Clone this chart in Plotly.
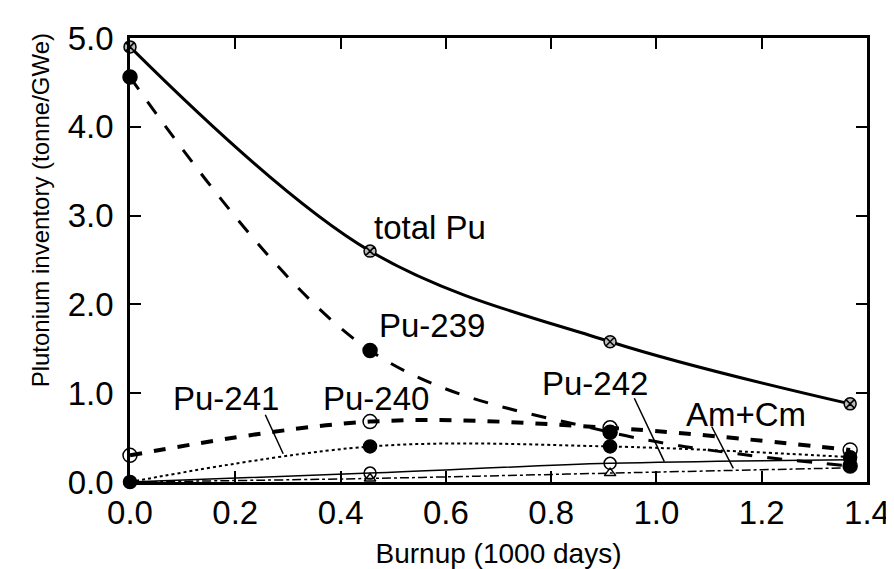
import plotly.graph_objects as go

# Data (burnup in 1000 days, inventory in tonne/GWe)
burnup = [0.0, 0.456, 0.912, 1.368]
total_pu = [4.90, 2.60, 1.58, 0.88]
pu239 = [4.56, 1.48, 0.56, 0.18]
pu240 = [0.30, 0.68, 0.61, 0.36]
pu241 = [0.00, 0.40, 0.40, 0.28]
pu242 = [0.00, 0.10, 0.21, 0.25]
amcm = [0.00, 0.04, 0.10, 0.16]

x_ticks = [0.0, 0.2, 0.4, 0.6, 0.8, 1.0, 1.2, 1.4]
y_ticks = [0.0, 1.0, 2.0, 3.0, 4.0, 5.0]

FONT = "Liberation Sans, Arial, Helvetica, sans-serif"

fig = go.Figure()

def add(y, dash, width, symbol, size, fill, name):
    fig.add_trace(go.Scatter(
        x=burnup, y=y, mode="lines+markers", name=name,
        line=dict(color="black", width=width, dash=dash, shape="spline", smoothing=1),
        marker=dict(symbol=symbol, size=size, color=fill,
                    line=dict(color="black", width=1.5)),
        cliponaxis=False, showlegend=False))

add(amcm, "dashdot", 1.5, "triangle-up-open", 10, "black", "Am+Cm")
add(pu242, "solid", 1.5, "circle-open", 12, "black", "Pu-242")
add(pu241, "dot", 2, "circle", 13, "black", "Pu-241")
add(pu240, "dash", 4, "circle-open", 14, "black", "Pu-240")
add(pu239, "longdash", 3, "circle", 14, "black", "Pu-239")
add(total_pu, "solid", 3, "circle-x", 12, "#bbbbbb", "total Pu")

axis_common = dict(
    showgrid=False, zeroline=False, showline=True, linecolor="black", linewidth=2.5,
    mirror="ticks", ticks="inside", ticklen=11, tickwidth=2, tickcolor="black",
    tickfont=dict(family=FONT, size=33, color="black"),
)

fig.update_xaxes(range=[0, 1.4], tickvals=x_ticks,
                 ticktext=[f"{v:.1f}" for v in x_ticks],
                 title=dict(text="Burnup (1000 days)", font=dict(family=FONT, size=28, color="black"), standoff=14),
                 **axis_common)
fig.update_yaxes(range=[0, 5.0], tickvals=y_ticks,
                 ticktext=[f"{v:.1f}" for v in y_ticks],
                 ticklabelstandoff=7,
                 **axis_common)

labels = [
    ("total Pu", 0.569, 2.87),
    ("Pu-239", 0.573, 1.76),
    ("Pu-241", 0.182, 0.935),
    ("Pu-240", 0.468, 0.935),
    ("Pu-242", 0.883, 1.11),
    ("Am+Cm", 1.171, 0.765),
]
for txt, xx, yy in labels:
    fig.add_annotation(x=xx, y=yy, text=txt, showarrow=False,
                       font=dict(family=FONT, size=33, color="black"))

# leader lines
for x0, y0, x1, y1 in [(0.257, 0.757, 0.291, 0.318),
                       (0.958, 0.943, 1.015, 0.230),
                       (1.105, 0.625, 1.146, 0.154)]:
    fig.add_shape(type="line", x0=x0, y0=y0, x1=x1, y1=y1,
                  line=dict(color="black", width=1.5))

fig.add_annotation(xref="paper", yref="paper", x=-0.122, y=0.612,
                   xanchor="center", yanchor="middle",
                   text="Plutonium inventory (tonne/GWe)", textangle=-90,
                   showarrow=False, font=dict(family=FONT, size=24, color="black"))

fig.update_layout(
    width=894, height=569,
    margin=dict(l=122, r=27, t=28, b=85),
    paper_bgcolor="white", plot_bgcolor="white",
    font=dict(family=FONT, color="black"),
)

fig.write_html("out.html")
